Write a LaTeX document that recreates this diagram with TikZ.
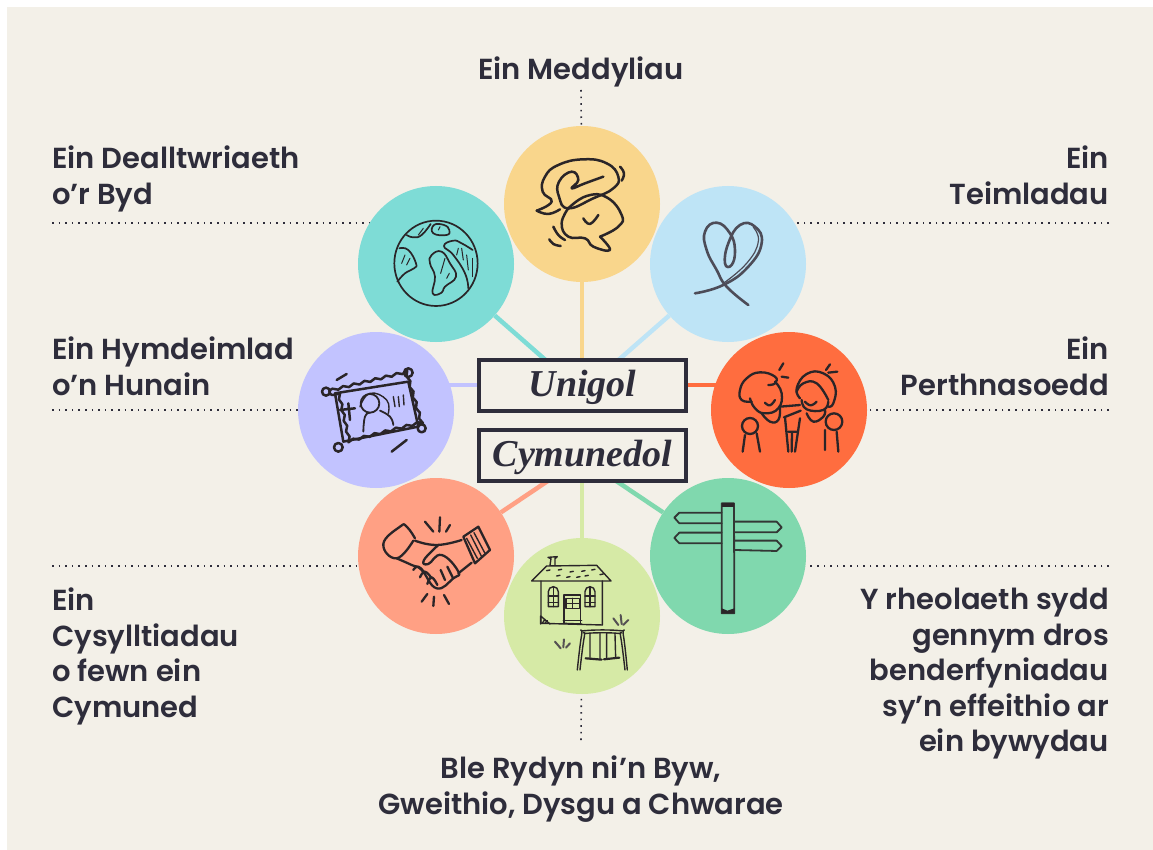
\documentclass[tikz,border=0pt]{standalone}
\usepackage{fontspec}
\setmainfont{Poppins}
\newfontfamily\labelfont{Poppins SemiBold}
\newfontfamily\boxfont{Liberation Serif}
\usetikzlibrary{positioning,backgrounds,decorations.pathmorphing}
\definecolor{paper}{HTML}{F3F0E8}
\definecolor{ink}{HTML}{2E2D3B}
\definecolor{sketchink}{HTML}{2A2528}
\definecolor{cyellow}{HTML}{F9D68C}
\definecolor{cblue}{HTML}{BEE4F6}
\definecolor{corange}{HTML}{FF6D3F}
\definecolor{cgreen}{HTML}{80D8AE}
\definecolor{clime}{HTML}{D6EAA6}
\definecolor{csalmon}{HTML}{FFA084}
\definecolor{clilac}{HTML}{C2C3FF}
\definecolor{cteal}{HTML}{7EDCD6}
\tikzset{
  topic/.style={circle, minimum size=156pt, inner sep=0pt, fill=#1},
  spoke/.style={line width=4.5pt, draw=#1},
  leader/.style={draw=ink, line width=1.6pt, dash pattern=on 1.6pt off 5pt},
  levelbox/.style={draw=ink, line width=4pt, fill=paper, minimum width=207pt, minimum height=51pt, inner sep=0pt,
    text height=29pt, text depth=7pt, text=ink, font=\boxfont\bfseries\itshape\fontsize{38}{40}\selectfont},
  lefttext/.style={anchor=north west, align=left, inner sep=0pt, text=ink, font=\labelfont\fontsize{29}{35.5}\selectfont},
  righttext/.style={anchor=north east, align=right, inner sep=0pt, text=ink, font=\labelfont\fontsize{29}{35.5}\selectfont},
  midtext/.style={anchor=north, align=center, inner sep=0pt, text=ink, font=\labelfont\fontsize{29}{35.5}\selectfont},
  sketch/.style={draw=sketchink, line width=1.6pt, line cap=round, line join=round, smooth, tension=0.8},
  zoomed/.style 2 args={shift={(#1,#2)}, x=0.3333pt, y=-0.3333pt},
}
\begin{document}
\begin{tikzpicture}[x=1pt, y=-1pt]
  \useasboundingbox (0,0) rectangle (1153,850);
  % circles
  \node[topic=cyellow] (thought) at (582,204) {};
  \node[topic=cblue] (feeling) at (728,264) {};
  \node[topic=corange] (relation) at (789,410) {};
  \node[topic=cgreen] (control) at (728,556) {};
  \node[topic=clime] (place) at (582,616) {};
  \node[topic=csalmon] (connect) at (436,556) {};
  \node[topic=clilac] (self) at (376,410) {};
  \node[topic=cteal] (world) at (436,264) {};

  % centre boxes
  \node[levelbox] (unigol) at (582.5,385) {Unigol};
  \node[levelbox] (cymunedol) at (582.5,455.5) {Cymunedol};

  % labels
  \node[midtext] (thoughtlbl) at (581,57) {Ein Meddyliau};
  \node[righttext] (feelinglbl) at (1109,146) {Ein\\Teimladau};
  \node[lefttext] (worldlbl) at (52,146) {Ein Dealltwriaeth\\o’r Byd};
  \node[lefttext] (selflbl) at (52,337) {Ein Hymdeimlad\\o’n Hunain};
  \node[righttext] (relationlbl) at (1109,337) {Ein\\Perthnasoedd};
  \node[lefttext] (connectlbl) at (52,588) {Ein\\Cysylltiadau\\o fewn ein\\Cymuned};
  \node[righttext] (controllbl) at (1109,588) {Y rheolaeth sydd\\gennym dros\\benderfyniadau\\sy’n effeithio ar\\ein bywydau};
  \node[midtext] (placelbl) at (581,756) {Ble Rydyn ni’n Byw,\\Gweithio, Dysgu a Chwarae};

  \coordinate (upperhub) at (582,392);
  \coordinate (lowerhub) at (582,458);
  \coordinate (worldend) at (52,223);
  \coordinate (feelingend) at (1109,223);
  \coordinate (selfend) at (52,410);
  \coordinate (relationend) at (1109,410);
  \coordinate (connectend) at (52,566);
  \coordinate (controlend) at (1109,566);
  \coordinate (thoughtend) at (581,90);
  \coordinate (placeend) at (581,740);

  \begin{scope}[on background layer]
    \fill[white] (0,0) rectangle (1153,850);
    \fill[paper] (7,7) rectangle (1153,850);
    % dotted lines
    \draw[leader] (thoughtend) -- (thought);
    \draw[leader] (placeend) -- (place);
    \draw[leader] (worldend) -- (worldend -| world);
    \draw[leader] (feelingend) -- (feelingend -| feeling);
    \draw[leader] (selfend) -- (self);
    \draw[leader] (relationend) -- (relation);
    \draw[leader] (connectend) -- (connectend -| connect);
    \draw[leader] (controlend) -- (controlend -| control);
    % spokes
    \draw[spoke=cyellow] (thought) -- (thought |- unigol.north);
    \draw[spoke=cblue] (feeling) -- (upperhub);
    \draw[spoke=cteal] (world) -- (upperhub);
    \draw[spoke=clilac] (unigol.west) -- (unigol.west -| self);
    \draw[spoke=corange] (unigol.east) -- (unigol.east -| relation);
    \draw[spoke=cgreen] (control) -- (lowerhub);
    \draw[spoke=csalmon] (connect) -- (lowerhub);
    \draw[spoke=clime] (place) -- (place |- cymunedol.south);
  \end{scope}

  % speech bubbles
  \begin{scope}[zoomed={490}{120}, sketch, line width=2.5pt]
    \draw plot coordinates {(140,272) (185,245) (158,215) (165,170) (205,135) (280,118) (350,130) (385,170) (370,205) (310,235) (235,265) (207,230) (207,185) (245,155) (265,180) (245,205) (285,190) (340,170)};
    \draw plot coordinates {(140,272) (175,282) (210,268)};
    \draw plot coordinates {(235,265) (290,228) (350,232) (395,285) (385,320) (330,350)};
    \draw plot coordinates {(330,350) (360,390) (310,380) (285,355) (235,350) (215,310) (235,265)};
    \draw plot coordinates {(280,295) (300,312) (325,285)};
    \draw plot coordinates {(390,140) (402,160) (395,182)};
    \draw plot coordinates {(190,320) (205,345) (225,360)};
    \draw plot coordinates {(178,358) (190,372) (212,378)};
  \end{scope}

  % heart
  \begin{scope}[zoomed={490}{120}, sketch, draw=ink!85, line width=2.6pt]
    \draw plot coordinates {(615,520) (700,495) (775,440) (815,370) (795,320) (750,315) (715,370) (705,430) (725,435) (735,390) (720,340) (680,308) (645,335) (650,390) (680,450) (710,500) (775,555)};
    \draw[line width=1.2pt] plot coordinates {(700,490) (770,430) (805,365) (790,322)};
  \end{scope}

  % globe
  \begin{scope}[zoomed={290}{180}, sketch, line width=1.7pt]
    \draw (438,250) ellipse [x radius=125, y radius=128];
    \draw plot coordinates {(328,205) (355,210) (378,250) (372,265) (345,280) (322,305)};
    \draw plot coordinates {(350,165) (370,172) (395,165) (422,132)};
    \draw plot[smooth cycle] coordinates {(432,135) (430,160) (470,165) (478,150) (462,135)};
    \draw plot[smooth cycle] coordinates {(425,225) (455,215) (480,250) (498,290) (465,320) (455,338) (428,340) (435,290) (420,250)};
    \draw plot coordinates {(548,210) (515,190) (490,182) (462,198) (490,225) (525,280) (535,325)};
    \foreach \xa/\ya/\xb/\yb in {335/250/345/225, 350/255/360/235, 385/165/400/145, 445/150/450/140, 452/280/465/235, 470/295/478/280, 500/225/505/205, 520/240/515/205, 535/270/530/225, 548/290/548/235}
      \draw[line width=1pt] (\xa,\ya) -- (\xb,\yb);
  \end{scope}

  % photo
  \begin{scope}[zoomed={290}{180}, sketch, line width=2.5pt]
    \draw[decorate, decoration={snake, amplitude=1.2pt, segment length=11pt}] (118,632) -- (340,578) -- (388,738) -- (155,798) -- cycle;
    \draw (108,635) circle (12) (355,578) circle (13) (395,745) circle (12) (145,802) circle (13);
    \draw (135,640) -- (355,605) -- (385,740) -- (160,785) -- cycle;
    \draw[line width=1.8pt] (240,670) circle (28);
    \draw[line width=1.8pt] plot coordinates {(220,755) (225,710) (240,698)};
    \draw[line width=1.8pt] plot coordinates {(270,692) (300,710) (310,735)};
    \draw[line width=1.4pt] plot coordinates {(210,680) (240,640) (290,660) (295,700)};
    \draw (150,690) -- (195,685) (175,670) -- (180,720);
    \draw[line width=1.4pt] (310,650) -- (315,680) (325,650) -- (328,680) (340,645) -- (342,675);
    \draw (140,600) -- (170,582) (305,815) -- (350,780);
  \end{scope}

  % handshake
  \begin{scope}[zoomed={350}{470}, sketch, line width=2.3pt]
    \draw plot coordinates {(195,205) (170,170) (150,170) (100,222) (140,265) (190,212)};
    \draw (340,200) -- (385,170) -- (420,240) -- (375,280) -- cycle;
    \draw plot coordinates {(195,212) (260,225) (335,210)};
    \draw plot coordinates {(265,225) (222,270) (235,282) (275,255) (325,305) (310,325) (260,355) (215,300) (185,285) (140,265)};
    \draw (325,310) -- (365,278);
    \draw plot coordinates {(190,300) (205,290) (225,310)};
    \draw plot coordinates {(210,322) (225,305) (245,325)};
    \draw plot coordinates {(232,342) (245,322) (262,345)};
    \draw (285,330) -- (272,300) (308,322) -- (292,290);
    \foreach \xa/\ya/\xb/\yb in {350/205/382/265, 362/195/395/260, 372/188/405/250}
      \draw[line width=1.4pt] (\xa,\ya) -- (\xb,\yb);
    \draw (225,155) -- (250,185) (270,142) -- (268,185) (300,165) -- (288,185);
    \draw (232,372) -- (215,395) (252,380) -- (250,408) (282,375) -- (297,402);
  \end{scope}

  % house and swing
  \begin{scope}[zoomed={350}{470}, sketch, line width=1.4pt]
    \draw (600,286) -- (603,266) -- (594,262) -- (622,260) -- (615,266) -- (615,286);
    \draw (545,333) -- (590,288) -- (740,286) -- (783,333) -- cycle;
    \draw (573,333) -- (573,460) -- (757,465) -- (757,333);
    \draw (595,410) -- (595,365) arc (180:360:15) -- (625,410) -- cycle;
    \draw (595,378) -- (625,378) (610,350) -- (610,410) (595,398) -- (625,398);
    \draw (705,410) -- (705,365) arc (180:360:15) -- (735,410) -- cycle;
    \draw (705,378) -- (735,378) (720,350) -- (720,410) (705,398) -- (735,398);
    \draw (642,460) -- (642,375) -- (692,375) -- (692,460);
    \draw (648,385) rectangle (688,415) (668,385) -- (668,415) (648,400) -- (688,400);
    \draw (640,452) -- (695,452);
    \draw (640,460) -- (695,462);
    \draw (572,462) -- (572,438) -- (600,462) (578,458) -- (585,448) (585,460) -- (592,452);
    \foreach \xa/\ya in {590/302, 625/300, 660/306, 695/304, 725/300, 620/318, 650/322, 680/322, 705/318, 750/314}
      \draw (\xa,\ya) -- ++(10,-2);
    % swing
    \draw plot coordinates {(682,600) (695,495) (705,482) (810,482) (820,495) (832,600)};
    \draw plot coordinates {(690,600) (703,500) (712,490) (803,490) (812,500) (825,600)};
    \draw (720,490) -- (720,562) (750,490) -- (750,565) (770,490) -- (770,565) (795,490) -- (797,562);
    \draw[line width=2.2pt] (707,565) -- (755,569) (762,568) -- (808,563);
    \draw[draw=sketchink!80, line width=2pt] (790,445) -- (805,465) (812,435) -- (815,462) (835,450) -- (820,465);
    \draw[draw=sketchink!80, line width=2pt] (615,515) -- (632,535) (642,508) -- (640,532) (660,520) -- (648,533);
  \end{scope}

  % signpost
  \begin{scope}[zoomed={640}{330}, sketch, draw=sketchink!90!cgreen, line width=1.8pt]
    \draw (245,520) -- (282,520) -- (283,850) -- (245,850) -- cycle;
    \fill[sketchink] (245,520) rectangle (282,532);
    \fill[sketchink] (245,850) -- (245,835) -- (262,842) -- (283,835) -- (283,850) -- cycle;
    \draw (245,548) -- (118,548) -- (103,563) -- (118,580) -- (245,580);
    \draw (245,608) -- (118,608) -- (103,624) -- (118,640) -- (245,640);
    \draw (282,575) -- (410,575) -- (425,592) -- (410,607) -- (282,607);
    \draw (282,632) -- (410,632) -- (425,648) -- (410,663) -- (282,660);
  \end{scope}

  % two friends
  \begin{scope}[zoomed={640}{330}, sketch, line width=2.3pt]
    \draw plot coordinates {(335,215) (305,210) (300,180) (320,145) (360,127) (405,140) (405,160) (385,165)};
    \draw plot coordinates {(330,205) (345,235) (375,250) (415,235) (425,190) (405,155)};
    \draw plot coordinates {(375,218) (390,226) (405,210)};
    \draw plot coordinates {(365,250) (390,275) (415,270) (420,235)};
    \draw (420,230) -- (480,225) (432,262) -- (482,242);
    \draw (330,288) circle (24);
    \draw (315,315) -- (308,365) (350,310) -- (360,365);
    \draw plot coordinates {(480,205) (470,175) (500,132) (550,130) (585,170) (580,220) (565,230)};
    \draw plot coordinates {(470,185) (490,160) (530,160) (565,210)};
    \draw plot coordinates {(485,210) (500,238) (550,240) (565,215)};
    \draw plot coordinates {(495,215) (512,226) (530,215)};
    \draw plot coordinates {(500,250) (520,275) (550,260) (555,240)};
    \draw (435,262) -- (445,365) (480,265) -- (465,365) (445,305) -- (470,305) (456,310) -- (455,365);
    \draw (582,275) circle (25);
    \draw (555,300) -- (555,360) (590,305) -- (595,365);
    \draw (430,100) -- (418,120) (425,140) -- (445,143) (570,103) -- (558,120) (565,128) -- (592,125);
  \end{scope}
\end{tikzpicture}
\end{document}
